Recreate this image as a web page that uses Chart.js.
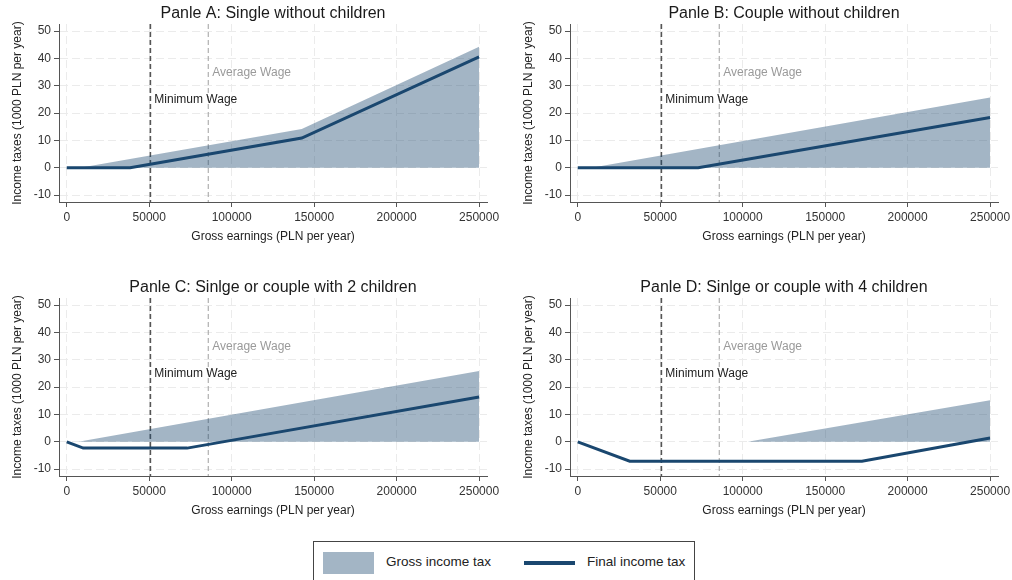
<!DOCTYPE html>
<html>
<head>
<meta charset="utf-8">
<script src="https://cdn.jsdelivr.net/npm/chart.js@4/dist/chart.umd.min.js"></script>
<style>
  html, body { margin: 0; padding: 0; background: #fff; }
  body { width: 1012px; height: 580px; position: relative; overflow: hidden; font-family: "Liberation Sans", Arial, sans-serif; }
  canvas { position: absolute; }
  #legend { position: absolute; left: 313px; top: 541px; width: 382px; height: 50px; border: 1px solid #444; box-sizing: border-box; }
  .sw { position: absolute; }
  .lt { position: absolute; font-size: 13.5px; color: #222; top: 12px; white-space: nowrap; }
</style>
</head>
<body>
<canvas id="cA" width="507" height="250" style="left:0px;top:0px"></canvas>
<canvas id="cB" width="507" height="250" style="left:511px;top:0px"></canvas>
<canvas id="cC" width="507" height="250" style="left:0px;top:274px"></canvas>
<canvas id="cD" width="507" height="250" style="left:511px;top:274px"></canvas>
<div id="legend">
  <div class="sw" style="left:9px;top:10px;width:51px;height:22px;background:rgb(163,181,197)"></div>
  <div class="lt" style="left:72px">Gross income tax</div>
  <div class="sw" style="left:210px;top:19px;width:51px;height:4px;background:#1a476f"></div>
  <div class="lt" style="left:273px">Final income tax</div>
</div>
<script>
// ---- Data (gross earnings in PLN per year, taxes in 1000 PLN per year) ----
const titles = [
  "Panle A: Single without children",
  "Panle B: Couple without children",
  "Panle C: Sinlge or couple with 2 children",
  "Panle D: Sinlge or couple with 4 children"
];
const grossA_x = [0, 8000, 142500, 250000];
const grossA_y = [0, 0, 14.2, 44.3];
const finalA_x = [0, 38400, 142500, 250000];
const finalA_y = [0, 0, 10.9, 40.6];

const grossB_x = [0, 8300, 250000];
const grossB_y = [0, 0, 25.7];
const finalB_x = [0, 73000, 250000];
const finalB_y = [0, 0, 18.4];

const grossC_x = [0, 7000, 250000];
const grossC_y = [0, 0, 25.9];
const finalC_x = [0, 10000, 73000, 250000];
const finalC_y = [0, -2.3, -2.3, 16.4];

const grossD_x = [0, 103000, 250000];
const grossD_y = [0, 0, 15.2];
const finalD_x = [0, 31500, 172300, 250000];
const finalD_y = [0, -7.1, -7.1, 1.4];

const minimumWage = 50700;
const averageWage = 85800;
const xTicks = [0, 50000, 100000, 150000, 200000, 250000];
const yTicks = [-10, 0, 10, 20, 30, 40, 50];
const seriesNames = ["Gross income tax", "Final income tax"];

// ---- Rendering ----
const FONT = "'Liberation Sans', Arial, Helvetica, sans-serif";
const NAVY = "#1a476f";
const FILL = "rgba(26,71,111,0.4)";

function pts(xs, ys) { return xs.map((x, i) => ({ x: x, y: ys[i] })); }

const wageLines = {
  id: 'wageLines',
  beforeDatasetsDraw(chart) {
    const { ctx, chartArea, scales } = chart;
    const draw = (v, color, w, dash) => {
      const px = scales.x.getPixelForValue(v);
      ctx.save();
      ctx.strokeStyle = color; ctx.lineWidth = w; ctx.setLineDash(dash);
      ctx.beginPath(); ctx.moveTo(px, chartArea.top); ctx.lineTo(px, chartArea.bottom); ctx.stroke();
      ctx.restore();
    };
    draw(minimumWage, "#555555", 1.6, [5, 3]);
    draw(averageWage, "#a8a8a8", 1.1, [5, 3]);
  },
  afterDatasetsDraw(chart) {
    const { ctx, scales } = chart;
    ctx.save();
    ctx.font = "12px " + FONT;
    ctx.textBaseline = "middle";
    ctx.textAlign = "left";
    ctx.fillStyle = "#222";
    ctx.fillText("Minimum Wage", scales.x.getPixelForValue(minimumWage) + 4, scales.y.getPixelForValue(24.8));
    ctx.fillStyle = "#9a9a9a";
    ctx.fillText("Average Wage", scales.x.getPixelForValue(averageWage) + 4, scales.y.getPixelForValue(34.8));
    ctx.restore();
  }
};

function makeChart(id, title, gx, gy, fx, fy) {
  new Chart(document.getElementById(id), {
    type: 'line',
    data: {
      datasets: [
        { label: seriesNames[1], data: pts(fx, fy), borderColor: NAVY, borderWidth: 3, pointRadius: 0, fill: false, tension: 0, order: 0 },
        { label: seriesNames[0], data: pts(gx, gy), borderColor: 'transparent', borderWidth: 0, backgroundColor: FILL, pointRadius: 0, fill: 'origin', tension: 0, order: 1 }
      ]
    },
    options: {
      responsive: false,
      animation: false,
      devicePixelRatio: 1,
      layout: { padding: { left: 0, right: 20, top: 0, bottom: 0 } },
      plugins: {
        legend: { display: false },
        tooltip: { enabled: false },
        title: {
          display: true, text: title, fullSize: false,
          color: '#1a1a1a', font: { family: FONT, size: 16, weight: 'normal', lineHeight: 1.0 },
          padding: { top: 6, bottom: 2 }
        }
      },
      scales: {
        x: {
          type: 'linear', min: -4700, max: 254800,
          afterFit: s => { s.height = 48; },
          afterBuildTicks: s => { s.ticks = xTicks.map(v => ({ value: v })); },
          ticks: { color: '#333', font: { family: FONT, size: 12 }, padding: 3, maxRotation: 0, autoSkip: false, callback: v => String(v) },
          grid: { color: '#ebebeb', lineWidth: 1, tickColor: '#555', tickLength: 5, tickWidth: 1, tickBorderDash: [] },
          border: { display: true, color: '#555', width: 1, dash: [8, 4] },
          title: { display: true, text: 'Gross earnings (PLN per year)', color: '#222', font: { family: FONT, size: 12 }, padding: { top: 0, bottom: 6 } }
        },
        y: {
          type: 'linear', min: -12.5, max: 52.6,
          afterFit: s => { s.width = 59; },
          afterBuildTicks: s => { s.ticks = yTicks.map(v => ({ value: v })); },
          ticks: { color: '#333', font: { family: FONT, size: 12 }, padding: 3, autoSkip: false, callback: v => String(v) },
          grid: { color: '#ebebeb', lineWidth: 1, tickColor: '#555', tickLength: 5, tickWidth: 1, tickBorderDash: [] },
          border: { display: true, color: '#555', width: 1, dash: [8, 4] },
          title: { display: true, text: 'Income taxes (1000 PLN per year)', color: '#222', font: { family: FONT, size: 12 }, padding: { top: 10, bottom: 0 } }
        }
      }
    },
    plugins: [wageLines]
  });
}

makeChart('cA', titles[0], grossA_x, grossA_y, finalA_x, finalA_y);
makeChart('cB', titles[1], grossB_x, grossB_y, finalB_x, finalB_y);
makeChart('cC', titles[2], grossC_x, grossC_y, finalC_x, finalC_y);
makeChart('cD', titles[3], grossD_x, grossD_y, finalD_x, finalD_y);
</script>
</body>
</html>
